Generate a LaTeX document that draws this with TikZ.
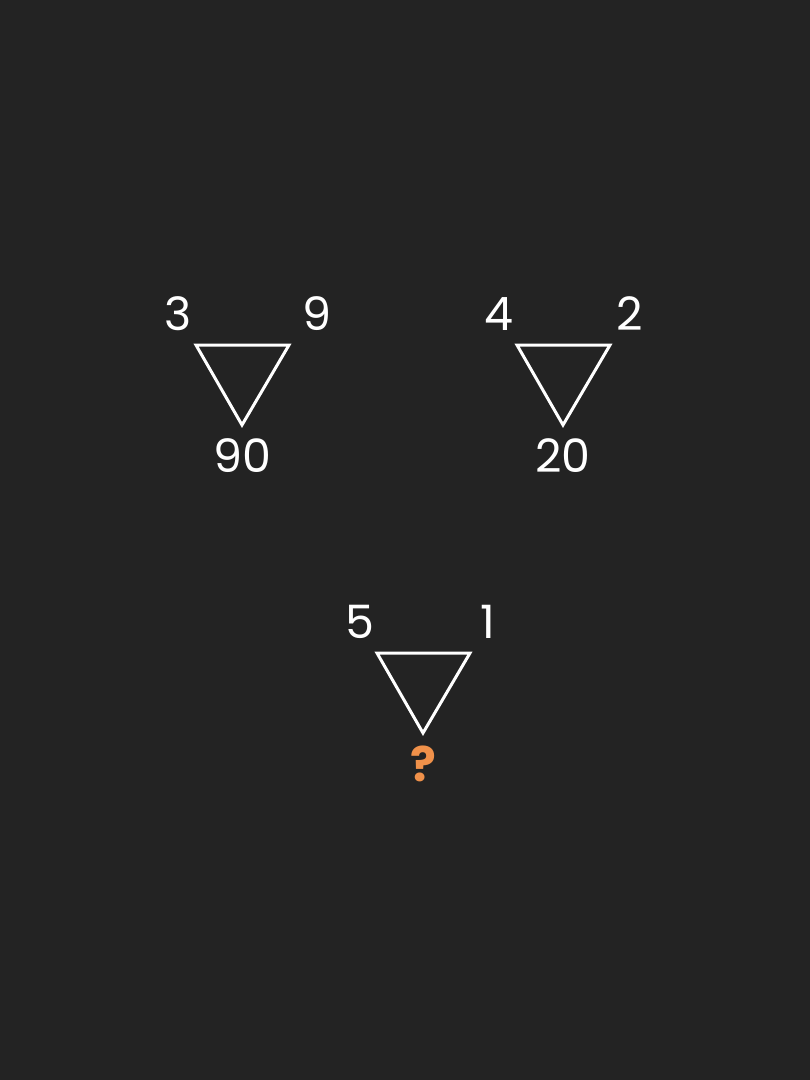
\documentclass[tikz,border=0pt]{standalone}
\usepackage{fontspec}
\setmainfont{Poppins}
\definecolor{bg}{HTML}{232323}
\definecolor{qorange}{HTML}{F0914A}
\begin{document}
\begin{tikzpicture}[x=1pt,y=-1pt,
  tri/.style={draw=white,line width=3pt,line join=miter},
  num/.style={text=white,font=\fontsize{46}{46}\selectfont,inner sep=0pt,anchor=center},
  qmark/.style={text=qorange,font=\fontsize{48}{48}\selectfont\bfseries,inner sep=0pt,anchor=center}]
\fill[bg] (0,0) rectangle (810,1080);
\useasboundingbox (0,0) rectangle (810,1080);
% triangle 1
\draw[tri] (196,345) -- (289,345) -- (242,425) -- cycle;
\node[num] (a1) at (178,314) {3};
\node[num] (a2) at (317,314) {9};
\node[num] (a3) at (242,456) {90};
% triangle 2
\draw[tri] (517,345) -- (610,345) -- (563,425) -- cycle;
\node[num] (b1) at (499,314) {4};
\node[num] (b2) at (630,314) {2};
\node[num] (b3) at (563,456) {20};
% triangle 3
\draw[tri] (377,653) -- (470,653) -- (423,733) -- cycle;
\node[num] (c1) at (360,622) {5};
\node[num] (c2) at (488,622) {1};
\node[qmark] (c3) at (423,764) {?};
\end{tikzpicture}
\end{document}
